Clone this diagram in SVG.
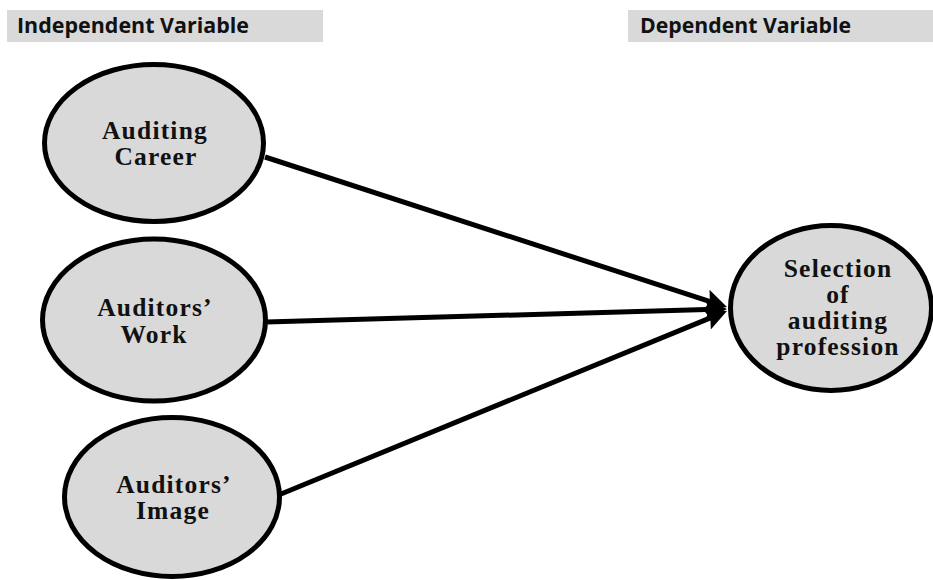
<svg xmlns="http://www.w3.org/2000/svg" width="933" height="580" viewBox="0 0 933 580">
<style>
.hdr{fill:#d9d9d9;}
.htxt{font-family:"Open Sans","Liberation Sans",sans-serif;font-weight:700;font-size:21px;fill:#111;}
.node ellipse{fill:#d9d9d9;stroke:#000;stroke-width:5;}
.node text{font-family:"Liberation Serif","Times New Roman",serif;font-weight:700;font-size:25.5px;letter-spacing:1.2px;fill:#111;text-anchor:middle;}
.conn line{stroke:#000;stroke-width:5;marker-end:url(#ah);}
</style>
<defs>
<marker id="ah" markerUnits="userSpaceOnUse" markerWidth="24" markerHeight="24" refX="10" refY="11" orient="auto">
<path d="M0,0 L22,11 L0,22 L4,11 z" fill="#000"/>
</marker>
</defs>
<rect width="933" height="580" fill="#fff"/>
<g id="header-independent">
<rect class="hdr" x="7" y="10" width="316" height="32"/>
<text class="htxt" x="17" y="33" textLength="232" lengthAdjust="spacingAndGlyphs">Independent Variable</text>
</g>
<g id="header-dependent">
<rect class="hdr" x="628" y="10" width="305" height="32"/>
<text class="htxt" x="640" y="33" textLength="211" lengthAdjust="spacingAndGlyphs">Dependent Variable</text>
</g>
<g class="conn" id="connectors">
<line x1="265" y1="157" x2="715.6" y2="303.3"/>
<line x1="266" y1="322" x2="715" y2="309.3"/>
<line x1="281" y1="494" x2="715.9" y2="315.6"/>
</g>
<g class="node" id="auditing-career">
<ellipse cx="154" cy="143" rx="109.5" ry="78.5"/>
<text x="155" y="139">Auditing</text>
<text x="156" y="165">Career</text>
</g>
<g class="node" id="auditors-work">
<ellipse cx="154" cy="320" rx="111.5" ry="81"/>
<text x="155" y="316">Auditors’</text>
<text x="154" y="343">Work</text>
</g>
<g class="node" id="auditors-image">
<ellipse cx="172" cy="497" rx="107.5" ry="79.5"/>
<text x="174" y="493">Auditors’</text>
<text x="173" y="519">Image</text>
</g>
<g class="node" id="selection">
<ellipse cx="831" cy="308" rx="100.5" ry="82.5"/>
<text x="838" y="277">Selection</text>
<text x="838" y="303">of</text>
<text x="838" y="329">auditing</text>
<text x="838" y="355">profession</text>
</g>
</svg>
